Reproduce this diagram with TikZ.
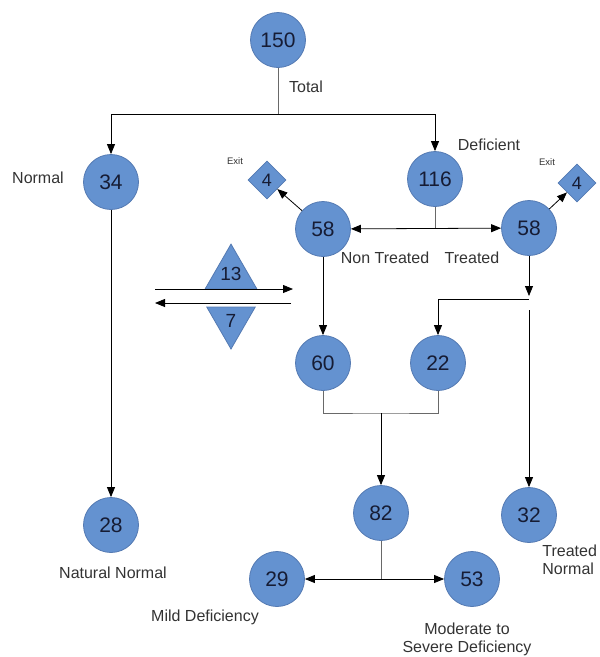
\documentclass[tikz,border=0pt]{standalone}
\usepackage{fontspec}
\setmainfont{Liberation Sans}
\usepackage{xcolor}
\usetikzlibrary{shapes.geometric, arrows.meta, positioning}

\definecolor{nodeblue}{RGB}{100,146,208}
\definecolor{nodeedge}{RGB}{84,122,178}
\definecolor{numtext}{RGB}{22,28,52}
\definecolor{linkgray}{RGB}{105,105,105}

\begin{document}
\begin{tikzpicture}[x=1pt, y=-1pt, >={Triangle[length=10pt,width=8pt]}, thick,
        count/.style={circle, fill=nodeblue, draw=nodeedge, minimum size=55pt, inner sep=0pt,
                      text=numtext, font=\fontsize{21}{21}\selectfont},
        exitbox/.style={diamond, fill=nodeblue, draw=nodeedge, minimum size=38pt, inner sep=0pt,
                        text=numtext, font=\fontsize{18}{18}\selectfont},
        swapbox/.style={regular polygon, regular polygon sides=3, fill=nodeblue, draw=nodeedge,
                        minimum size=56pt, inner sep=0pt, text=numtext, font=\fontsize{19}{19}\selectfont},
        tag/.style={text=black!80, font=\fontsize{16}{18}\selectfont},
        exittag/.style={text=black!80, font=\fontsize{9.5}{10}\selectfont},
        link/.style={draw=linkgray, thin}]
        \useasboundingbox (0,0) rectangle (600,657);

        \node[count] (total) at (278,40) {150};
        \node[count] (normal) at (111,182) {34};
        \node[count] (defic) at (435,179) {116};
        \node[count] (ntr) at (323,229) {58};
        \node[count] (tr) at (529,228) {58};
        \node[exitbox] (exitL) at (267,180) {4};
        \node[exitbox] (exitR) at (577,183) {4};
        \node[swapbox] (gain) at (231,274) {13};
        \node[swapbox, shape border rotate=180] (loss) at (231,321) {7};
        \node[count] (mix60) at (323,363) {60};
        \node[count] (few) at (438,363) {22};
        \node[count] (total82) at (381,513) {82};
        \node[count] (trnormal) at (529,515) {32};
        \node[count] (natural) at (111,525) {28};
        \node[count] (mild) at (277,579) {29};
        \node[count] (severe) at (472,579) {53};

        \node[tag] at (306,87) {Total};
        \node[tag] at (38,178) {Normal};
        \node[tag] at (489,145) {Deficient};
        \node[exittag] at (235,161) {Exit};
        \node[exittag] at (547,162) {Exit};
        \node[tag] at (385,258) {Non Treated};
        \node[tag] at (472,258) {Treated};
        \node[tag] at (113,573) {Natural Normal};
        \node[tag, anchor=west, align=left, inner sep=1pt] at (541,560) {Treated\\Normal};
        \node[tag] at (205,617) {Mild Deficiency};
        \node[tag, align=center] at (467,639) {Moderate to\\Severe Deficiency};

        \coordinate (split) at (278,114);
        \coordinate (fork) at (435,228);
        \coordinate (trtip) at (529,296);
        \coordinate (trturn) at (529,299);
        \coordinate (trgap) at (529,310);
        \coordinate (merge) at (381,413);
        \coordinate (split82) at (381,579);
        \coordinate (inL) at (155,289);
        \coordinate (inR) at (293,289);
        \coordinate (outR) at (291,303);
        \coordinate (outL) at (155,303);

        % Total splits into normal and deficient
        \draw[link] (total) -- (split);
        \path[->]
        (split) edge [to path={-| (\tikztotarget)}] (normal)
                edge [to path={-| (\tikztotarget)}] (defic);

        \draw[->] (normal) -- (natural);

        % deficient: treated or not
        \draw[link] (defic) -- (fork);
        \draw[<->] (ntr) -- (tr);
        \draw[->] (ntr) -- (exitL);
        \draw[->] (tr) -- (exitR);

        \draw[->] (inL) -- (inR);
        \draw[->] (outR) -- (outL);

        \draw[->] (ntr) -- (mix60);
        \draw[->] (tr) -- (trtip);
        \draw[->] (trturn) -| (few);
        \draw[->] (trgap) -- (trnormal);

        \draw[link] (mix60) |- (merge) -| (few);
        \draw[->] (merge) -- (total82);

        \draw[link] (total82) -- (split82);
        \draw[<->] (mild) -- (severe);
\end{tikzpicture}
\end{document}
